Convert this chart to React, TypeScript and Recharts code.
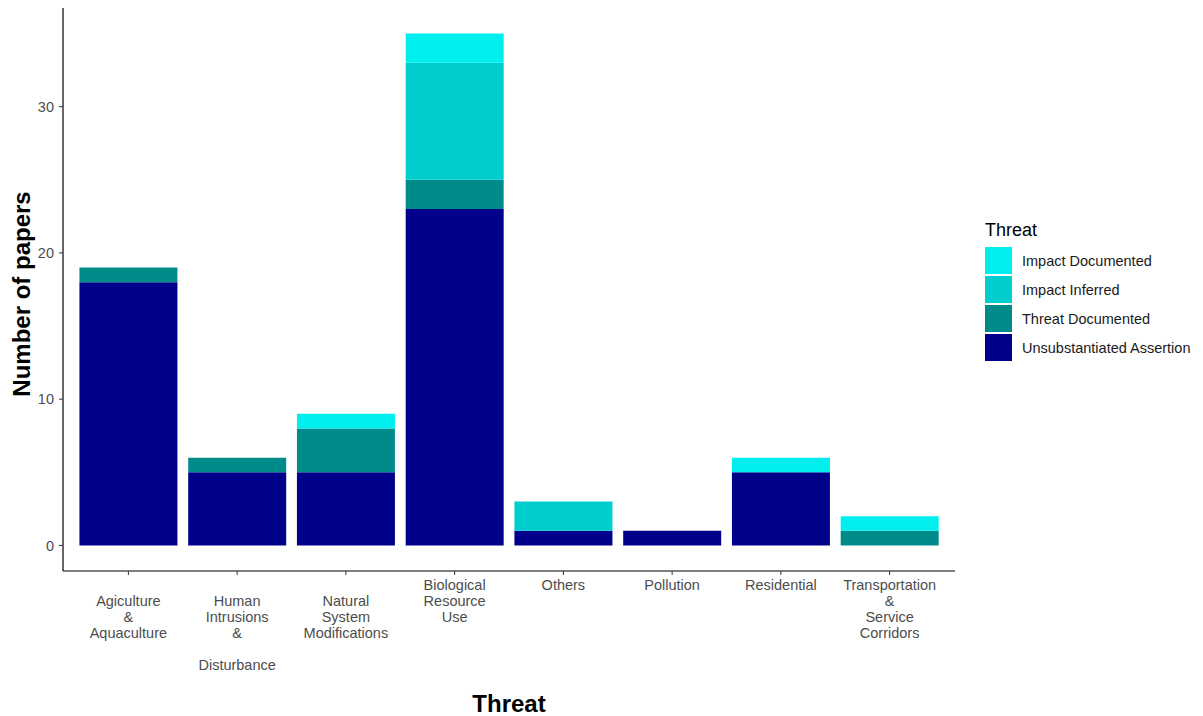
import { Bar, BarChart, Label, XAxis, YAxis } from "recharts";

const categories = [
  "Agiculture & Aquaculture",
  "Human Intrusions & Disturbance",
  "Natural System Modifications",
  "Biological Resource Use",
  "Others",
  "Pollution",
  "Residential",
  "Transportation & Service Corridors",
];

// tick label lines as drawn (blank lines kept)
const tickLines = [
  ["", "Agiculture", "&", "Aquaculture"],
  ["", "Human", "Intrusions", "&", "", "Disturbance"],
  ["", "Natural", "System", "Modifications"],
  ["Biological", "Resource", "Use"],
  ["Others"],
  ["Pollution"],
  ["Residential"],
  ["Transportation", "&", "Service", "Corridors"],
];

const unsubstantiated = [18, 5, 5, 23, 1, 1, 5, 0];
const threatDocumented = [1, 1, 3, 2, 0, 0, 0, 1];
const impactInferred = [0, 0, 0, 8, 2, 0, 0, 0];
const impactDocumented = [0, 0, 1, 2, 0, 0, 1, 1];

const yTicks = [0, 10, 20, 30];

// bottom to top
const series = [
  { key: "unsub", name: "Unsubstantiated Assertion", color: "#00008B", values: unsubstantiated },
  { key: "threatDoc", name: "Threat Documented", color: "#008B8B", values: threatDocumented },
  { key: "impInf", name: "Impact Inferred", color: "#00CDCD", values: impactInferred },
  { key: "impDoc", name: "Impact Documented", color: "#00EEEE", values: impactDocumented },
];

const data = categories.map((cat, i) => {
  const row: Record<string, string | number> = { cat };
  series.forEach((s) => {
    row[s.key] = s.values[i];
  });
  return row;
});

const FONT = "'Liberation Sans', Arial, sans-serif";

function XTick({ x, y, payload }: any) {
  const lines = tickLines[payload.index] ?? [String(payload.value)];
  return (
    <g>
      {lines.map((line, i) => (
        <text
          key={i}
          x={x}
          y={y + 15 + i * 16}
          textAnchor="middle"
          fontSize={14.5}
          fontFamily={FONT}
          fill="#4D4D4D"
        >
          {line}
        </text>
      ))}
    </g>
  );
}

function ThreatLegend() {
  const items = [...series].reverse();
  return (
    <div style={{ position: "absolute", left: 985, top: 220, fontFamily: FONT }}>
      <div style={{ fontSize: 18, color: "#000", height: 26, lineHeight: "20px" }}>Threat</div>
      {items.map((s) => (
        <div key={s.key} style={{ display: "flex", alignItems: "center", height: 29 }}>
          <div style={{ width: 27, height: 27, background: s.color }} />
          <span style={{ marginLeft: 10, fontSize: 14.5, color: "#1A1A1A" }}>{s.name}</span>
        </div>
      ))}
    </div>
  );
}

export default function App() {
  return (
    <div style={{ position: "absolute", left: 0, top: 0, width: 1203, height: 716, background: "#fff" }}>
      <BarChart
        width={1203}
        height={716}
        data={data}
        margin={{ top: 8, right: 248, bottom: 0, left: 0 }}
        barCategoryGap="5%"
      >
        <XAxis
          dataKey="cat"
          height={145}
          padding={{ left: 11, right: 11 }}
          tickSize={4}
          tickMargin={0}
          interval={0}
          tick={<XTick />}
          axisLine={{ stroke: "#000", strokeWidth: 1.2 }}
          tickLine={{ stroke: "#333" }}
        >
          <Label
            content={() => (
              <text x={509} y={712} textAnchor="middle" fontSize={24} fontWeight="bold" fontFamily={FONT} fill="#000">
                Threat
              </text>
            )}
          />
        </XAxis>
        <YAxis
          width={63}
          domain={[-1.75, 36.75]}
          ticks={yTicks}
          tickSize={4}
          tickMargin={5}
          tick={{ fontSize: 14.5, fill: "#4D4D4D", fontFamily: FONT }}
          axisLine={{ stroke: "#000", strokeWidth: 1.2 }}
          tickLine={{ stroke: "#333" }}
        >
          <Label
            content={() => (
              <text
                x={30}
                y={294}
                transform="rotate(-90 30 294)"
                textAnchor="middle"
                fontSize={24}
                fontWeight="bold"
                fontFamily={FONT}
                fill="#000"
              >
                Number of papers
              </text>
            )}
          />
        </YAxis>
        {series.map((s) => (
          <Bar key={s.key} dataKey={s.key} name={s.name} stackId="a" fill={s.color} isAnimationActive={false} />
        ))}
      </BarChart>
      <ThreatLegend />
    </div>
  );
}
